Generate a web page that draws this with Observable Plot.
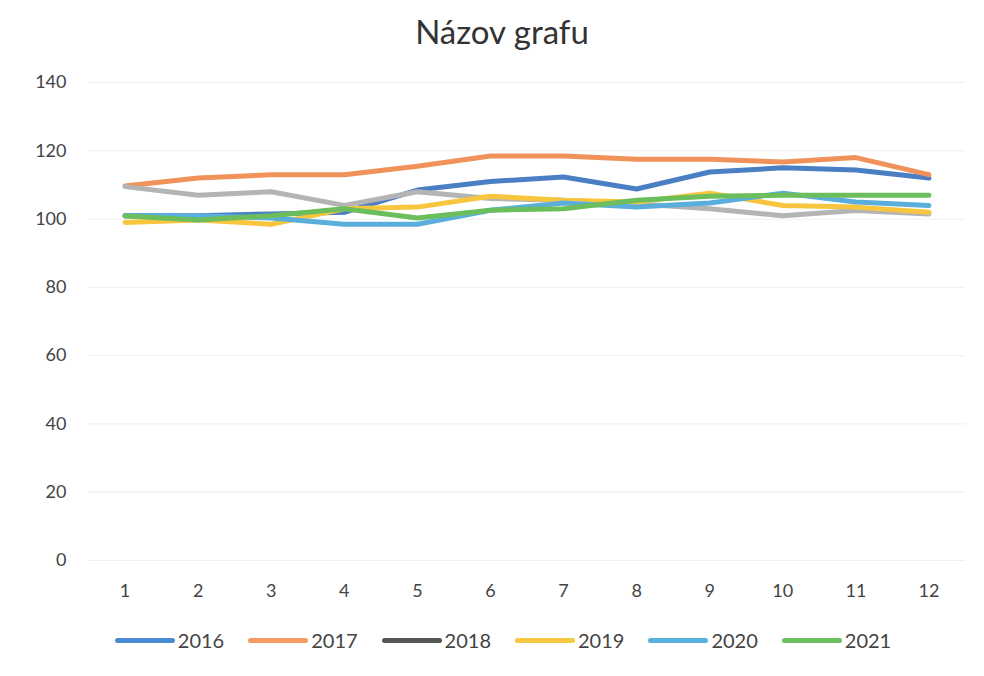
<!DOCTYPE html>
<html>
<head>
<meta charset="utf-8">
<script src="https://cdn.jsdelivr.net/npm/d3@7"></script>
<script src="https://cdn.jsdelivr.net/npm/@observablehq/plot@0.6"></script>
<style>
  html, body { margin: 0; padding: 0; background: #fff; }
  body { width: 984px; height: 676px; font-family: Lato, "Open Sans", sans-serif; color: #444; }
  #title { height: 60px; line-height: 62px; text-align: center; font-size: 33px; color: #333; padding-left: 20px; box-sizing: border-box; }
  #legend { display: flex; justify-content: center; gap: 24px; font-size: 20px; color: #444; margin-top: 8px; padding-left: 22px; }
  .item { display: flex; align-items: center; }
  .sw { display: inline-block; width: 60px; height: 5px; border-radius: 3px; margin-right: 3px; }
</style>
</head>
<body>
<div id="title">Názov grafu</div>
<div id="chart"></div>
<div id="legend"></div>
<script>
const months = [1, 2, 3, 4, 5, 6, 7, 8, 9, 10, 11, 12];
const years = ["2016", "2017", "2018", "2019", "2020", "2021"];
const v2016 = [101, 101, 101.5, 102, 108.5, 111, 112.3, 108.8, 113.8, 115, 114.4, 112];
const v2017 = [109.7, 112, 113, 113, 115.5, 118.5, 118.5, 117.5, 117.5, 116.7, 118, 113];
const v2018 = [109.5, 107, 108, 104, 108, 106, 105.5, 104.5, 103, 101, 102.5, 101.5];
const v2019 = [99, 99.7, 98.5, 103, 103.5, 106.7, 105.5, 105, 107.6, 104, 103.5, 102];
const v2020 = [101, 101, 100.3, 98.5, 98.5, 102.6, 104.7, 103.5, 104.7, 107.6, 105, 104];
const v2021 = [100.9, 99.7, 101, 103, 100.3, 102.6, 103, 105.5, 106.7, 107, 107, 107];
const yTicks = [0, 20, 40, 60, 80, 100, 120, 140];
const lineColors = ["#4a7fc4", "#f0925a", "#b4b4b4", "#f7c63e", "#5aaedc", "#6cbd5c"];
const legendColors = ["#4a8ad0", "#f59a62", "#555555", "#f5c842", "#5ab0dc", "#6cc062"];

const series = [v2016, v2017, v2018, v2019, v2020, v2021];
const data = [];
years.forEach((y, i) => months.forEach((m, j) => data.push({year: y, month: m, value: series[i][j]})));

const chart = Plot.plot({
  width: 984,
  height: 560,
  marginLeft: 88,
  marginRight: 19,
  marginTop: 22,
  marginBottom: 60,
  style: {fontFamily: "Lato, 'Open Sans', sans-serif", fontSize: "18px", color: "#444", background: "#fff"},
  x: {domain: [0.5, 12.5], ticks: months, tickFormat: d => String(d), tickSize: 0, tickPadding: 24, label: null},
  y: {domain: [0, 140], ticks: yTicks, tickSize: 0, tickPadding: 22, label: null},
  color: {domain: years, range: lineColors},
  marks: [
    Plot.gridY(yTicks, {stroke: "#efefef", strokeOpacity: 1, strokeWidth: 1}),
    Plot.axisX({ticks: months, tickSize: 0, tickPadding: 24, tickFormat: d => String(d), fontSize: 18, fill: "#444"}),
    Plot.axisY({ticks: yTicks, tickSize: 0, tickPadding: 22, fontSize: 18, fill: "#444"}),
    Plot.line(data, {x: "month", y: "value", z: "year", stroke: "year", strokeWidth: 5, strokeLinejoin: "round", strokeLinecap: "round"})
  ]
});
document.getElementById("chart").appendChild(chart);

const legend = document.getElementById("legend");
years.forEach((y, i) => {
  const it = document.createElement("div");
  it.className = "item";
  const sw = document.createElement("span");
  sw.className = "sw";
  sw.style.background = legendColors[i];
  it.appendChild(sw);
  const t = document.createElement("span");
  t.textContent = y;
  it.appendChild(t);
  legend.appendChild(it);
});
</script>
</body>
</html>
